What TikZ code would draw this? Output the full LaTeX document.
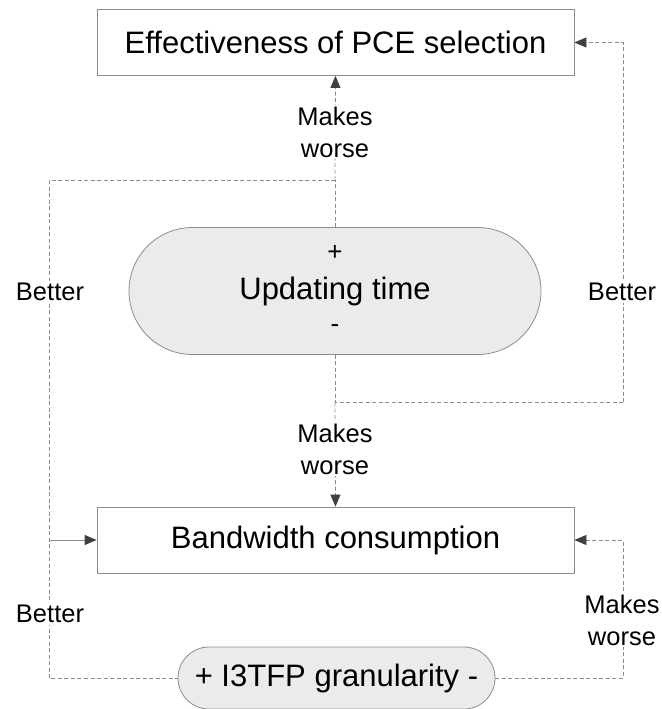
\documentclass[tikz,border=0pt]{standalone}
\usepackage{fontspec}
\setmainfont{Liberation Sans}
\usetikzlibrary{arrows.meta,shapes.misc}
\definecolor{linegray}{HTML}{8C8C8C}
\definecolor{fillgray}{HTML}{EBEBEB}
\definecolor{tipgray}{HTML}{404040}
\tikzset{
  box/.style={draw=linegray, line width=0.8pt, minimum width=477pt, minimum height=66pt, inner sep=0pt, font=\fontsize{31}{36}\selectfont},
  pill/.style={draw=linegray, fill=fillgray, line width=0.8pt, rounded rectangle, inner sep=0pt, font=\fontsize{31}{36}\selectfont},
  lbl/.style={fill=white, inner sep=2pt, align=center, font=\fontsize{25.5}{32}\selectfont},
  link/.style={draw=linegray, line width=0.8pt, dash pattern=on 4pt off 2.5pt},
  tip/.style={-{Triangle[length=12pt,width=10pt,color=tipgray]}},
}
\begin{document}
\begin{tikzpicture}[x=1pt,y=-1pt]
\useasboundingbox (0,0) rectangle (661,709);
\node[box] (pce) at (335.5,42.5) {Effectiveness of PCE selection};
\node[box] (bw) at (335.5,540) {Bandwidth consumption};
\node[pill, minimum width=412pt, minimum height=127pt] (upd) at (335,291) {};
\node[font=\fontsize{31}{36}\selectfont] (updt) at (335,291) {Updating time};
\node[font=\fontsize{26}{30}\selectfont] (plus) at (335,253) {+};
\node[font=\fontsize{26}{30}\selectfont] (minus) at (335,329) {-};
\node[pill, minimum width=317pt, minimum height=62pt] (gran) at (336.5,678) {+ I3TFP granularity -};
\coordinate (ja) at (335,180);
\coordinate (jl) at (49,180);
\coordinate (jlm) at (49,540);
\coordinate (jlb) at (49,678);
\coordinate (jb) at (335,402);
\coordinate (jr) at (623,402);
\coordinate (jrt) at (623,42.5);
\coordinate (jrb) at (623,678);
\coordinate (jrm) at (623,540);
% top: updating time -> PCE (makes worse)
\draw[link] (upd.north) -- (ja);
\draw[link,tip] (ja) -- (pce.south);
% left: updating time -> bandwidth (better)
\draw[link] (ja) -- (jl) -- (jlb) -- (gran.west);
\draw[draw=linegray, line width=0.8pt, tip] (jlm) -- (bw.west);
% right: updating time -> PCE (better)
\draw[link] (upd.south) -- (jb) -- (jr);
\draw[link,tip] (jr) -- (jrt) -- (pce.east);
% bottom centre: -> bandwidth (makes worse)
\draw[link,tip] (jb) -- (bw.north);
% granularity -> bandwidth (makes worse)
\draw[link,tip] (gran.east) -- (jrb) -- (jrm) -- (bw.east);
% labels
\node[lbl] (l1) at (335,132) {Makes\\worse};
\node[lbl] (l2) at (335,449) {Makes\\worse};
\node[lbl] (l3) at (50,292) {Better};
\node[lbl] (l4) at (622,292) {Better};
\node[lbl] (l5) at (50,614) {Better};
\node[lbl] (l6) at (622,620) {Makes\\worse};
\end{tikzpicture}
\end{document}
